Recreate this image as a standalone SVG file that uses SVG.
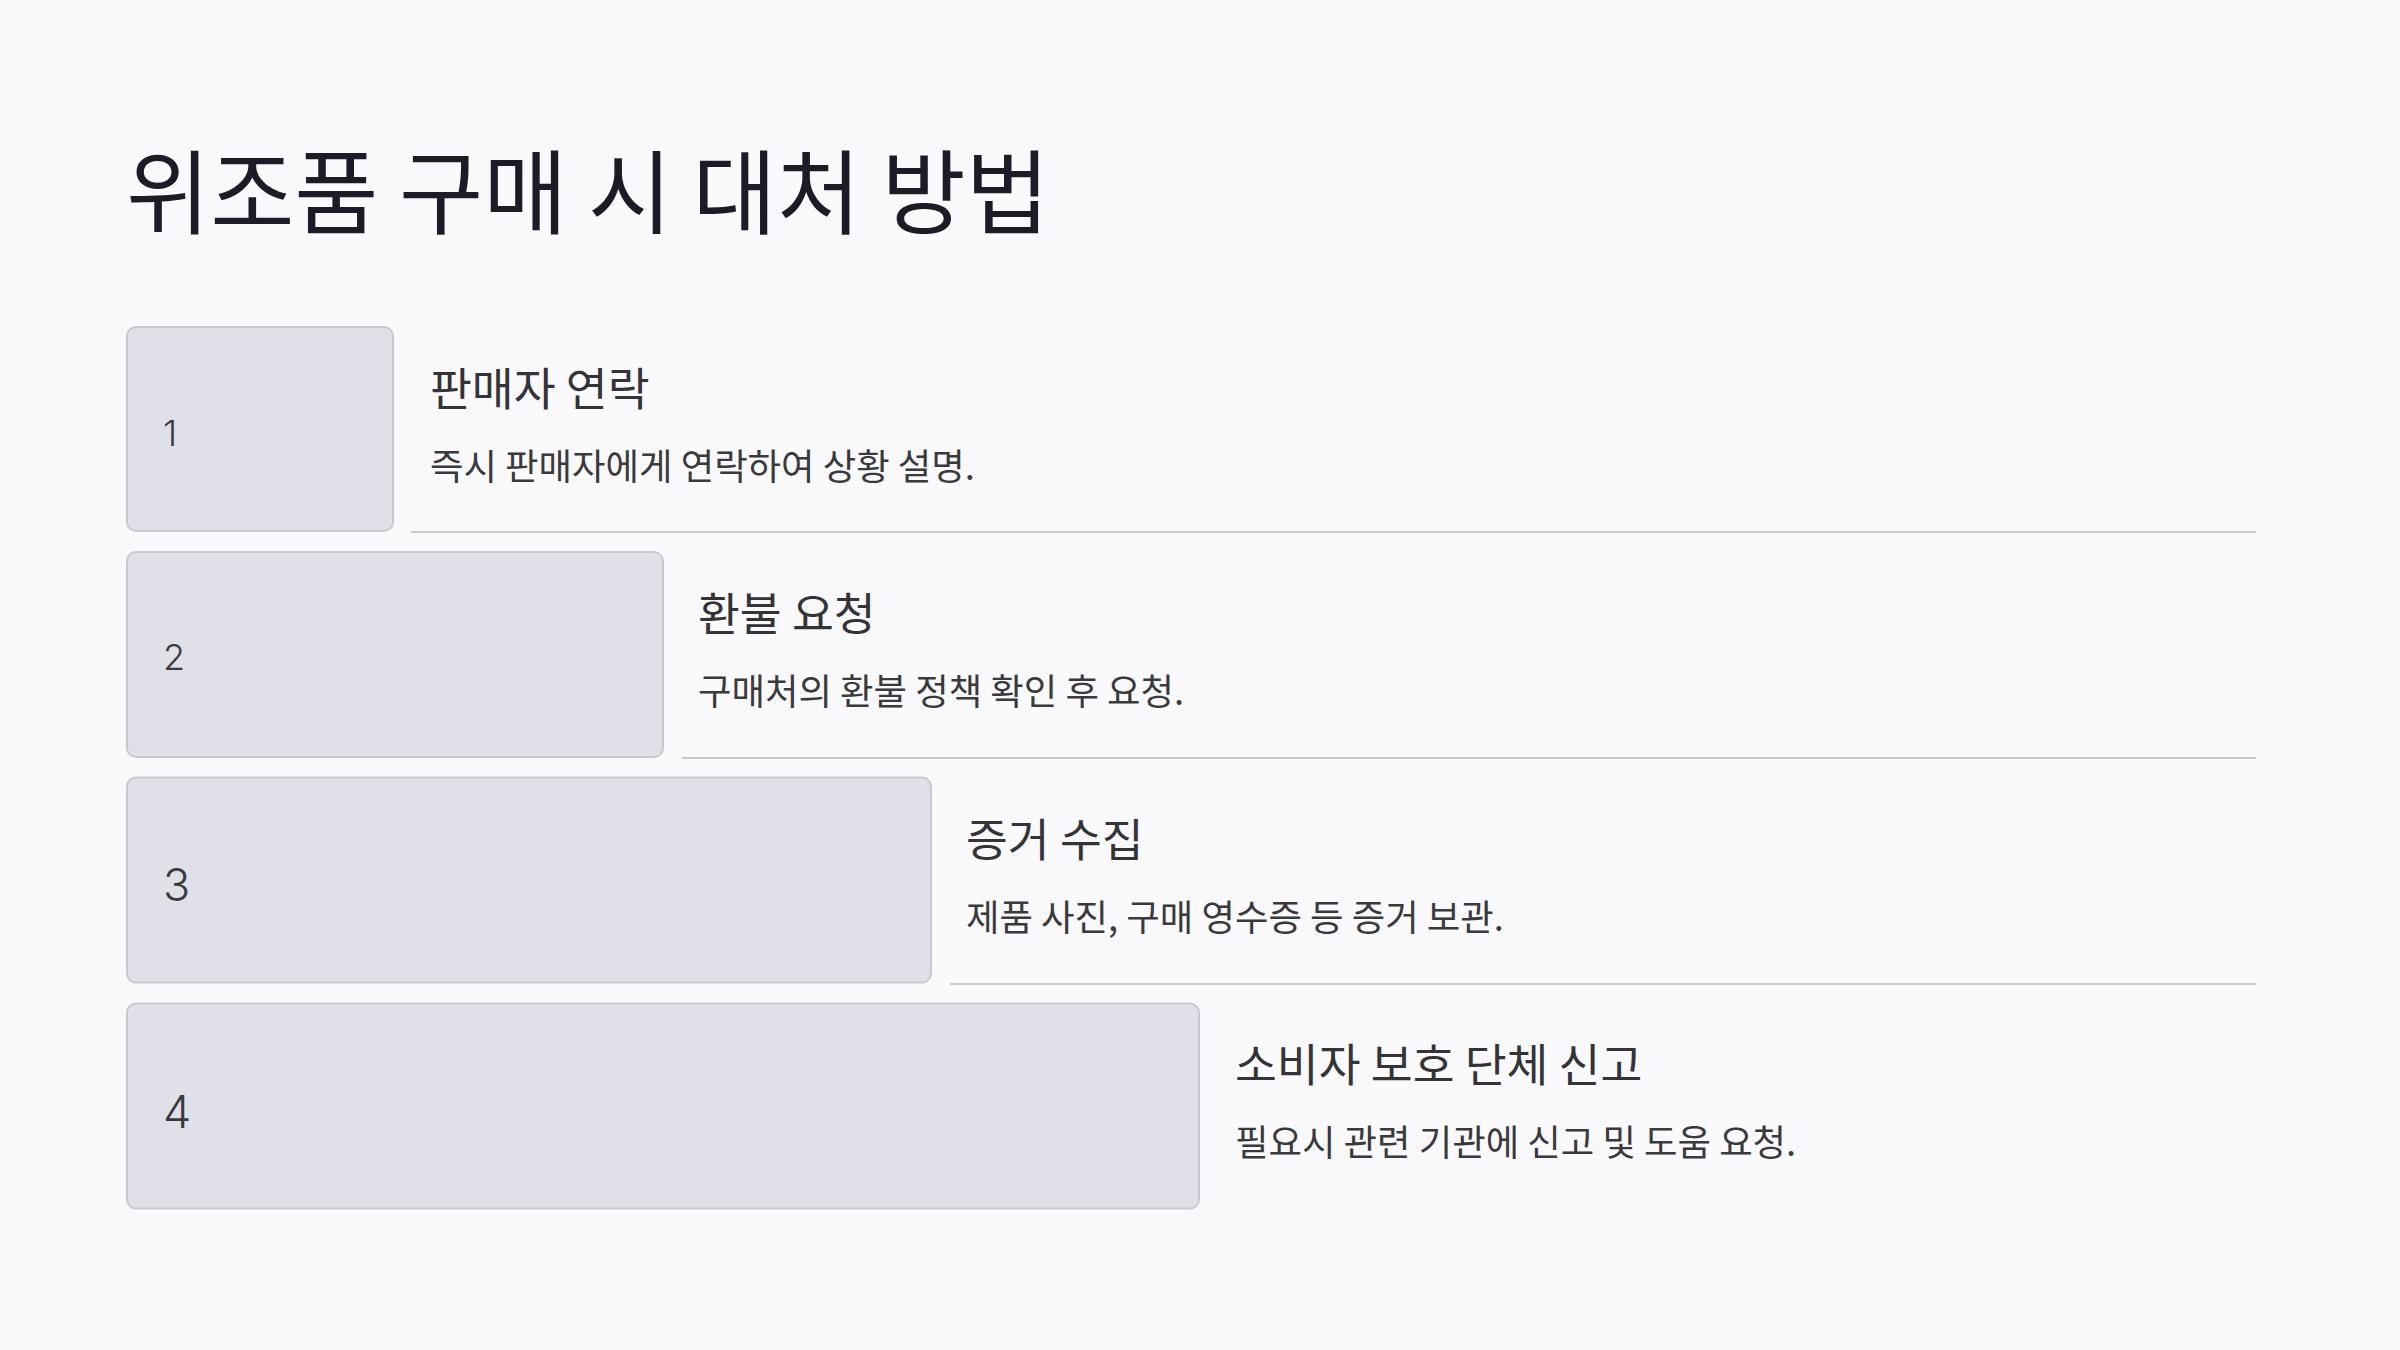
<svg xmlns="http://www.w3.org/2000/svg" width="2400" height="1350" viewBox="0 0 2400 1350">
<style>
.bg{fill:#f9f9fb}
.box{fill:#e0e0e8;stroke:#c8c8d2;stroke-width:2}
.sep{stroke:#c8c8d0;stroke-width:2}
.title{font-family:"Noto Sans CJK KR","Noto Sans",sans-serif;font-size:91.5px;fill:#1c1c28}
.num{font-family:Inter,"Noto Sans",sans-serif;font-weight:300;fill:#3a3a3e}
.head{font-family:"Noto Sans CJK KR","Noto Sans",sans-serif;font-size:45.5px;fill:#333338}
.desc{font-family:"Noto Sans CJK KR","Noto Sans",sans-serif;font-size:36.4px;fill:#3a3a3e}
</style>
<rect class="bg" x="0" y="0" width="2400" height="1350"/>
<text class="title" x="126" y="227">위조품 구매 시 대처 방법</text>
<g id="connectors">
<line class="sep" x1="411" y1="532" x2="2256" y2="532"/>
<line class="sep" x1="682" y1="758" x2="2256" y2="758"/>
<line class="sep" x1="950" y1="984" x2="2256" y2="984"/>
</g>
<g id="step1">
<rect class="box" x="127" y="327" width="266" height="204" rx="9"/>
<text class="num" x="163" y="445.5" font-size="36">1</text>
<text class="head" x="430" y="406">판매자 연락</text>
<text class="desc" x="430" y="479.5">즉시 판매자에게 연락하여 상황 설명.</text>
</g>
<g id="step2">
<rect class="box" x="127" y="552" width="536" height="205" rx="9"/>
<text class="num" x="163" y="670" font-size="36">2</text>
<text class="head" x="698" y="631">환불 요청</text>
<text class="desc" x="698" y="705">구매처의 환불 정책 확인 후 요청.</text>
</g>
<g id="step3">
<rect class="box" x="127" y="777.5" width="804" height="205" rx="9"/>
<text class="num" x="163" y="901" font-size="45">3</text>
<text class="head" x="966" y="857">증거 수집</text>
<text class="desc" x="966" y="930.5">제품 사진, 구매 영수증 등 증거 보관.</text>
</g>
<g id="step4">
<rect class="box" x="127" y="1003.5" width="1072" height="205" rx="9"/>
<text class="num" x="163" y="1128" font-size="45">4</text>
<text class="head" x="1235" y="1082">소비자 보호 단체 신고</text>
<text class="desc" x="1235" y="1156">필요시 관련 기관에 신고 및 도움 요청.</text>
</g>
</svg>
